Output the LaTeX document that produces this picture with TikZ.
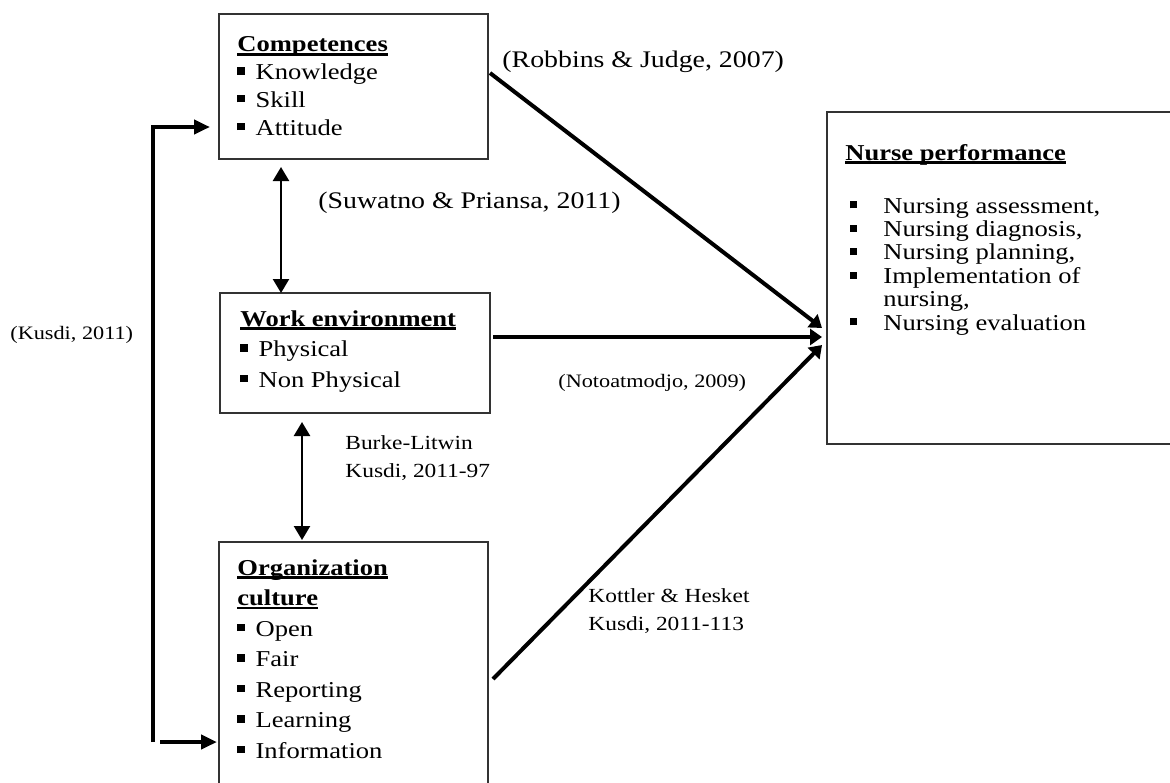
\documentclass[tikz,border=0pt]{standalone}
\usepackage{fontspec}
\setmainfont{Liberation Serif}[FakeStretch=1.17]
\usetikzlibrary{arrows.meta,positioning}

\newcommand{\headul}[1]{\leavevmode\sbox0{\textbf{#1}}\rlap{\rule[-1.8pt]{\wd0}{1.3pt}}\usebox0}
\newcommand{\sqbul}{\rule[2.5pt]{3.6pt}{3.6pt}\hspace{5.5pt}}
\newcommand{\npbul}{\hspace*{2.5pt}\makebox[16.5pt][l]{\rule[2.3pt]{3.5pt}{3.5pt}}}

\begin{document}
\begin{tikzpicture}[x=0.5pt,y=-0.5pt,
  box/.style={draw=black!80,line width=0.6pt,rectangle,inner sep=0pt,outer sep=0pt,anchor=north west},
  boxtext/.style={anchor=base west,inner sep=0pt,align=left},
  cite/.style={anchor=base west,inner sep=0pt,align=left},
  arr/.style={-{Triangle[length=6pt,width=8pt]},line width=2pt},
  dbl/.style={{Triangle[length=7pt,width=8pt]}-{Triangle[length=7pt,width=8pt]},line width=1.2pt},
  brk/.style={-{Triangle[length=8pt,width=7pt]},line width=2.2pt}
]
\clip (0,0) rectangle (1170,782);

% Boxes
\node[box,minimum width=134.5pt,minimum height=72.5pt] (comp) at (219,14) {};
\node[box,minimum width=135pt,minimum height=60pt] (work) at (220,293) {};
\node[box,minimum width=134.5pt,minimum height=140pt] (org) at (219,542) {};
\node[box,minimum width=179pt,minimum height=166pt] (nurse) at (827,112) {};

% Box contents (base = last line)
\node[boxtext,font={\fontsize{11.35pt}{13.85pt}\selectfont}] (comptxt) at ([shift={(18,121)}]comp.north west)
  {\headul{Competences}\\ \sqbul Knowledge\\ \sqbul Skill\\ \sqbul Attitude};
\node[boxtext,font={\fontsize{11.35pt}{15.2pt}\selectfont}] (worktxt) at ([shift={(20,94)}]work.north west)
  {\headul{Work environment}\\ \sqbul Physical\\ \sqbul Non Physical};
\node[boxtext,font={\fontsize{11.35pt}{15.25pt}\selectfont}] (orgtxt) at ([shift={(18,216)}]org.north west)
  {\headul{Organization}\\ \headul{culture}\\ \sqbul Open\\ \sqbul Fair\\ \sqbul Reporting\\ \sqbul Learning\\ \sqbul Information};
\node[boxtext,font={\fontsize{11.35pt}{11.7pt}\selectfont}] (nursetxt) at ([shift={(18,218)}]nurse.north west)
  {\headul{Nurse performance}\\[14.8pt] \npbul Nursing assessment,\\ \npbul Nursing diagnosis,\\ \npbul Nursing planning,\\
   \npbul Implementation of\\ \hspace*{19pt}nursing,\\ \npbul Nursing evaluation};

% Citations
\node[cite,font={\fontsize{11.9pt}{14pt}\selectfont}] (robbins) at (502,67) {(Robbins \& Judge, 2007)};
\node[cite,font={\fontsize{11.9pt}{14pt}\selectfont}] (suwatno) at (318,208) {(Suwatno \& Priansa, 2011)};
\node[cite,font={\fontsize{9.5pt}{12pt}\selectfont}] (noto) at (558,387) {(Notoatmodjo, 2009)};
\node[cite,font={\fontsize{9.5pt}{12pt}\selectfont}] (kusdi) at (10,339) {(Kusdi, 2011)};
\node[cite,font={\fontsize{10pt}{14pt}\selectfont}] (burke) at (345,477) {Burke-Litwin\\Kusdi, 2011-97};
\node[cite,font={\fontsize{10pt}{14pt}\selectfont}] (kottler) at (588,630) {Kottler \& Hesket\\Kusdi, 2011-113};

% Arrows to performance
\draw[arr] ([shift={(2,-13.5)}]comp.east) -- ([shift={(-5,50)}]nurse.west);
\draw[arr] ([shift={(3,-16)}]work.east) -- ([shift={(-5,59)}]nurse.west);
\draw[arr] ([shift={(5,137)}]org.north east) -- ([shift={(-5,67)}]nurse.west);

% Two-way links
\draw[dbl] ([shift={(62,8)}]comp.south west) -- ([shift={(61,0)}]work.north west);
\draw[dbl] ([shift={(82,9)}]work.south west) -- ([shift={(83,-2)}]org.north west);

% Kusdi bracket
\coordinate (brkbot) at (153,742);
\coordinate (brktop) at (153,127);
\coordinate (brkfoot) at (160,742);
\draw[brk,shorten >=4.5pt] (brkbot) -- (brktop) -- (comp.west |- brktop);
\draw[brk,shorten >=1pt] (brkfoot) -- (org.west |- brkfoot);

\end{tikzpicture}
\end{document}
